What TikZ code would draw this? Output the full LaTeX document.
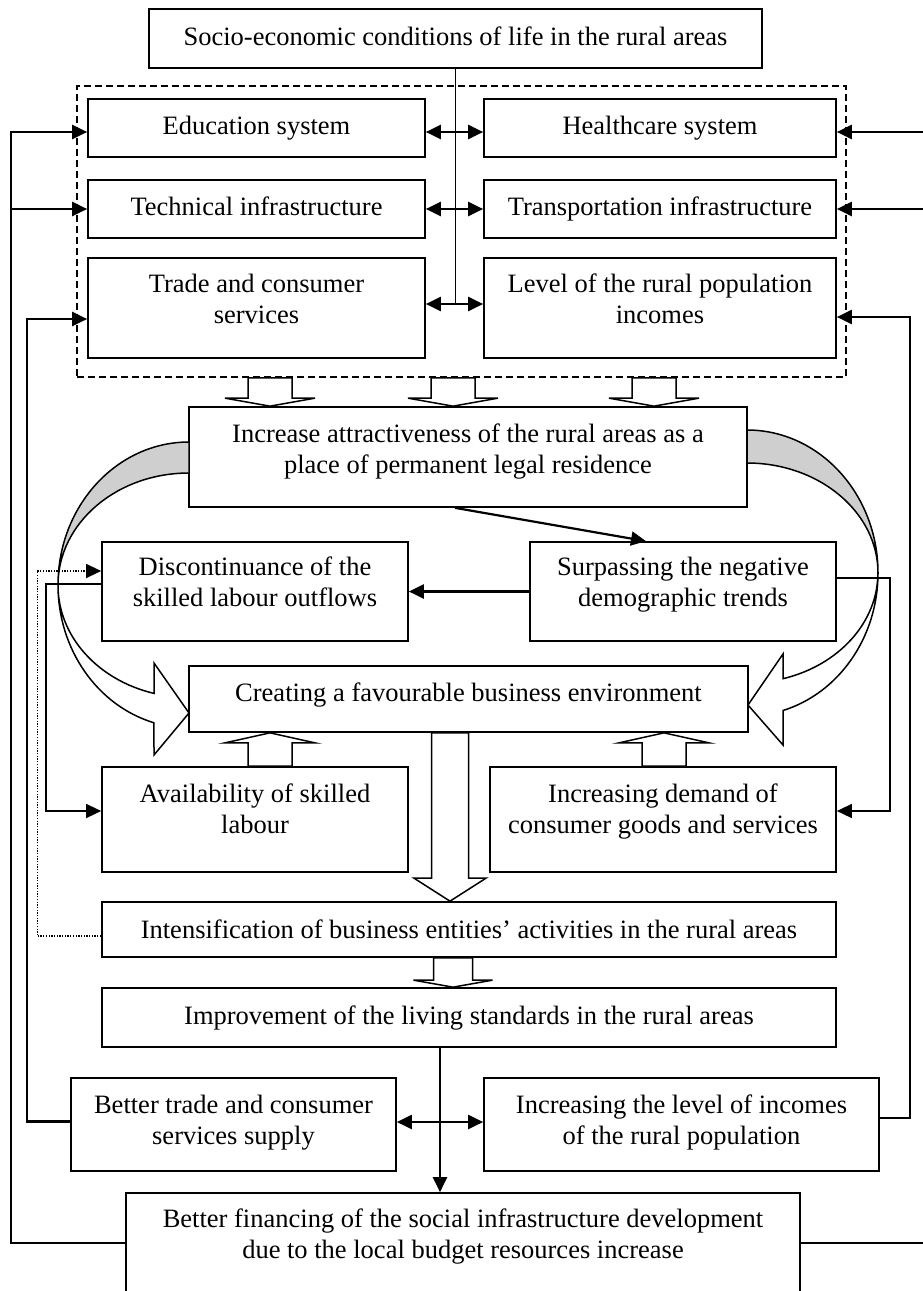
\documentclass[tikz,border=0pt]{standalone}
\usepackage{fontspec}
\setmainfont{Liberation Serif}
\usetikzlibrary{positioning}
\usetikzlibrary{arrows.meta}
\usetikzlibrary{calc}

% hollow block arrow: tail anchor, tip anchor, x, head length, half shaft, half head
\newcommand{\hollowarrow}[6]{%
  \draw [hollow] (#3-#5,0 |- #1) -- ($(#3-#5,0 |- #2)+(0,#4)$) -- ($(#3-#6,0 |- #2)+(0,#4)$)
    -- (#3,0 |- #2) -- ($(#3+#6,0 |- #2)+(0,#4)$) -- ($(#3+#5,0 |- #2)+(0,#4)$)
    -- (#3+#5,0 |- #1) -- cycle;}

\begin{document}
\begin{tikzpicture}[x=1pt, y=-1pt, >={Triangle[length=15pt,width=14pt]},
  box/.style={draw, fill=white, line width=1.7pt, inner sep=0pt, align=center,
    text height=18pt, text depth=5pt, font=\fontsize{26.5}{31.7}\selectfont},
  twoline/.style={text height=49.7pt}]
\tikzstyle{conn}=[line width=2.2pt, ->]
\tikzstyle{dbl}=[line width=2.2pt, <->]
\tikzstyle{fb}=[line width=2.2pt, ->]
\tikzstyle{fbthin}=[line width=1.5pt, ->]
\tikzstyle{dots}=[line width=1.3pt, dash pattern=on 1.3pt off 1.4pt, ->]
\tikzstyle{hollow}=[draw, fill=white, line width=1.5pt]
\tikzstyle{ribbon}=[line width=1.5pt]
\tikzstyle{group}=[draw, dash pattern=on 7pt off 4pt, line width=1.5pt, inner sep=0pt]

\useasboundingbox (0,0) rectangle (923,1291);

\node (top) [box, minimum width=613pt, minimum height=59pt] at (455.5,38.5) {Socio-economic conditions of life in the rural areas};
\node (grp) [group, minimum width=769pt, minimum height=291pt] at (461.5,231.5) {};
\node (edu) [box, minimum width=337pt, minimum height=58pt] at (256.5,128) {Education system};
\node (hlth) [box, minimum width=352pt, minimum height=58pt] at (660,128) {Healthcare system};
\node (tech) [box, minimum width=337pt, minimum height=58pt] at (256.5,209) {Technical infrastructure};
\node (trsp) [box, minimum width=352pt, minimum height=58pt] at (660,209) {Transportation infrastructure};
\node (trade) [box, twoline, minimum width=337pt, minimum height=100pt, text depth=18.3pt] at (256.5,308) {Trade and consumer\\services};
\node (lvl) [box, twoline, minimum width=352pt, minimum height=100pt, text depth=18.3pt] at (660,308) {Level of the rural population\\incomes};
\node (incr) [box, twoline, minimum width=558pt, minimum height=100pt, text depth=16.3pt] at (468,457) {Increase attractiveness of the rural areas as a\\place of permanent legal residence};
\node (disc) [box, twoline, minimum width=306pt, minimum height=99pt, text depth=19.3pt] at (255,591.5) {Discontinuance of the\\skilled labour outflows};
\node (surp) [box, twoline, minimum width=306pt, minimum height=99pt, text depth=19.3pt] at (683,591.5) {Surpassing the negative\\demographic trends};
\node (creat) [box, minimum width=559pt, minimum height=66pt, text depth=14pt] at (468.5,699) {Creating a favourable business environment};
\node (avail) [box, twoline, minimum width=306pt, minimum height=105pt, text depth=21.3pt] at (255,819.5) {Availability of skilled\\labour};
\node (dmnd) [box, twoline, minimum width=346pt, minimum height=105pt, text depth=21.3pt] at (663,819.5) {Increasing demand of\\consumer goods and services};
\node (intens) [box, minimum width=734pt, minimum height=55pt, text depth=1pt] at (469,929.5) {Intensification of business entities’ activities in the rural areas};
\node (impr) [box, minimum width=734pt, minimum height=59pt] at (469,1017.5) {Improvement of the living standards in the rural areas};
\node (btrade) [box, twoline, minimum width=325pt, minimum height=93pt, text depth=9.3pt] at (233.5,1124.5) {Better trade and consumer\\services supply};
\node (incl) [box, twoline, minimum width=395pt, minimum height=93pt, text depth=9.3pt] at (681.5,1124.5) {Increasing the level of incomes\\of the rural population};
\node (fin) [box, twoline, minimum width=674pt, minimum height=112pt, text depth=30.3pt] at (463,1249) {Better financing of the social infrastructure development\\due to the local budget resources increase};

\coordinate (hub) at ($(trade.east)!0.5!(lvl.west)+(0,-4)$);
\coordinate (busL) at (11,0);
\coordinate (busL2) at (27,0);
\coordinate (busR) at (930,0);
\coordinate (busR2) at (910,0);
\coordinate (eduIn) at ([yshift=-4pt]edu.west);
\coordinate (hlthIn) at ([yshift=-4pt]hlth.east);
\coordinate (tradeIn) at ([yshift=-11pt]trade.west);
\coordinate (lvlIn) at ([yshift=-9pt]lvl.east);
\coordinate (finL) at ([yshift=6pt]fin.west);
\coordinate (finR) at ([yshift=6pt]fin.east);
\coordinate (btradeOut) at ([yshift=3pt]btrade.west);
\coordinate (inclOut) at ([yshift=6.5pt]incl.east);
\coordinate (drop) at ([xshift=-29pt]impr.south);

% top block
\draw [line width=1.6pt] (top.south) -- (top.south |- hub);
\draw [dbl] ([yshift=-4pt]edu.east) -- ([yshift=-4pt]hlth.west);
\draw [dbl] (tech.east) -- (trsp.west);
\draw [dbl] ([yshift=4pt]trade.east) -- ([yshift=4pt]lvl.west);

% feedback
\draw [fb] (finL) -| (busL |- eduIn) -- (eduIn);
\draw [fb] (busL |- tech.west) -- (tech.west);
\draw [fb] (finR) -| (busR |- hlthIn) -- (hlthIn);
\draw [fb] (busR |- trsp.east) -- (trsp.east);
\draw [fb] (btradeOut) -| (busL2 |- tradeIn) -- (tradeIn);
\draw [fb] (inclOut) -| (busR2 |- lvlIn) -- (lvlIn);

% middle
\draw [conn] ([xshift=-13pt]incr.south) -- ([xshift=-37pt]surp.north);
\draw [conn] (node cs:name=surp, anchor=west) -- (node cs:name=disc, anchor=east);
\draw [fbthin] ([yshift=7.5pt]disc.west) -- ++(-55,0) |- ([yshift=8.5pt]avail.west);
\draw [fbthin] ([yshift=13.5pt]surp.east) -- ++(53,0) |- ([yshift=8.5pt]dmnd.east);
\draw [dots] ([yshift=-6.5pt]intens.west) -- ++(-64,0) |- ([yshift=20.5pt]disc.west);

% curved arrows
\filldraw [ribbon, fill=gray!38] (189,442) arc [start angle=270, end angle=180, x radius=131, y radius=143]
  arc [start angle=180, end angle=270, x radius=131, y radius=112] -- cycle;
\filldraw [ribbon, fill=white] (58,585) arc [start angle=180, end angle=105.5, x radius=131, y radius=143]
  -- (154,755) -- (189,713) -- (154,663) -- (154,693.4)
  arc [start angle=105.5, end angle=180, x radius=131, y radius=112] -- cycle;
\filldraw [ribbon, fill=gray!38] (747,430) arc [start angle=270, end angle=360, x radius=131, y radius=143]
  arc [start angle=0, end angle=-90, x radius=131, y radius=110] -- cycle;
\filldraw [ribbon, fill=white] (878,573) arc [start angle=0, end angle=74, x radius=131, y radius=143]
  -- (783,745) -- (748,705) -- (783,654) -- (783,678.7)
  arc [start angle=74, end angle=0, x radius=131, y radius=110] -- cycle;

% block arrows
\hollowarrow{grp.south}{incr.north}{270}{-8}{22}{45}
\hollowarrow{grp.south}{incr.north}{453}{-8}{22}{45}
\hollowarrow{grp.south}{incr.north}{654}{-8}{22}{45}
\hollowarrow{avail.north}{creat.south}{270}{10}{22}{45}
\hollowarrow{dmnd.north}{creat.south}{664}{10}{22}{45}
\hollowarrow{creat.south}{intens.north}{450}{-23}{18.5}{36}
\hollowarrow{intens.south}{impr.north}{453}{-7}{19.5}{39.5}

% bottom
\draw [conn] (drop) -- (drop |- fin.north);
\draw [dbl] ([yshift=2.5pt]btrade.east) -- ([yshift=2.5pt]incl.west);
\end{tikzpicture}
\end{document}
